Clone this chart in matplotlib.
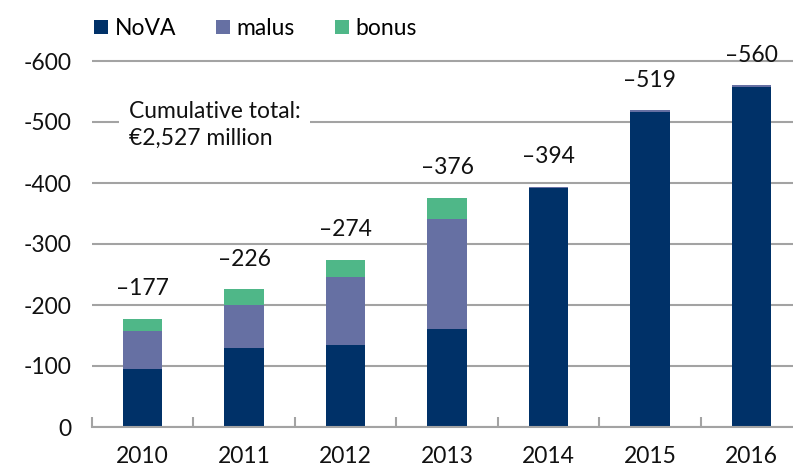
import numpy as np
import matplotlib
matplotlib.use("Agg")
import matplotlib.pyplot as plt
from matplotlib.ticker import FuncFormatter

plt.rcParams['font.family'] = ['Lato', 'DejaVu Sans']

years = ['2010', '2011', '2012', '2013', '2014', '2015', '2016']
nova = [95, 130, 135, 160, 391, 516, 557]
malus = [63, 70, 111, 181, 3, 3, 3]
bonus = [19, 26, 28, 35, 0, 0, 0]
totals = [177, 226, 274, 376, 394, 519, 560]

c_nova = '#003168'
c_malus = '#6670a3'
c_bonus = '#4fb788'
c_grid = '#a3a3a3'
fs = 16.5

fig = plt.figure(figsize=(7.93, 4.67), dpi=100)
ax = fig.add_axes([92 / 793, 40 / 467, 710 / 793, 390.4 / 467])

x = np.arange(len(years))
w = 0.39
nova = np.array(nova)
malus = np.array(malus)
bonus = np.array(bonus)
ax.bar(x, nova, w, color=c_nova, label='NoVA', zorder=3)
ax.bar(x, malus, w, bottom=nova, color=c_malus, label='malus', zorder=3)
ax.bar(x, bonus, w, bottom=nova + malus, color=c_bonus, label='bonus', zorder=3)

# totals above the bars
for xi, t in zip(x, totals):
    ax.annotate('\u2013' + str(t), (xi, t), xytext=(0, 17), textcoords='offset points',
                ha='center', va='baseline', fontsize=fs, color='#111111')

ax.set_xlim(-0.5, len(years) - 0.5)
ax.set_ylim(0, 640)
ax.set_yticks(range(0, 601, 100))
ax.yaxis.set_major_formatter(FuncFormatter(lambda v, p: '0' if v == 0 else '-%d' % v))
ax.grid(axis='y', color=c_grid, linewidth=1.5, zorder=0)
ax.tick_params(axis='y', length=0, pad=15, labelsize=fs, colors='#111111')

ax.set_xticks(x)
ax.set_xticklabels(years)
ax.set_xticks(np.arange(-0.5, len(years)), minor=True)
ax.tick_params(axis='x', which='major', length=0, pad=14, labelsize=fs, colors='#111111')
ax.tick_params(axis='x', which='minor', length=7, width=1.5, direction='in', color=c_grid)

for s in ['top', 'right', 'left']:
    ax.spines[s].set_visible(False)
ax.spines['bottom'].set_color(c_grid)
ax.spines['bottom'].set_linewidth(1.5)
ax.spines['bottom'].set_zorder(4)

ax.text(-0.14, 495, 'Cumulative total:\n\u20ac2,527 million', fontsize=fs, color='#111111',
        ha='left', va='center', linespacing=1.3, zorder=5,
        bbox=dict(facecolor='white', edgecolor='none', pad=7))

fig.legend(loc='upper left', bbox_to_anchor=(94 / 793, 1 - 18 / 467), ncol=3, frameon=False,
           fontsize=fs, handlelength=0.6, handleheight=0.6, handletextpad=0.3,
           columnspacing=1.75, borderpad=0, borderaxespad=0)

fig.savefig('out.png', dpi=100)
